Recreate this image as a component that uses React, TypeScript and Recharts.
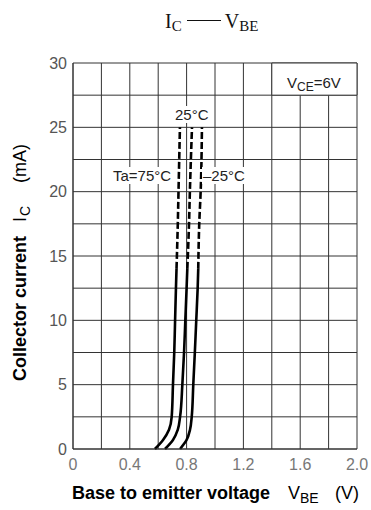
import React from "react";
import {
  LineChart,
  Line,
  XAxis,
  YAxis,
  CartesianGrid,
  ReferenceArea,
} from "recharts";

// Ic - Vbe curves (mA vs V)
const currentLow = [0, 0.7, 1.5, 2.5, 5, 7.5, 10, 12.5, 14];
const currentHigh = [14, 17.5, 20, 25];

const vbe75Low = [0.577, 0.634, 0.676, 0.695, 0.704, 0.713, 0.719, 0.725, 0.729];
const vbe75High = [0.729, 0.738, 0.743, 0.753];
const vbe25Low = [0.648, 0.704, 0.738, 0.754, 0.77, 0.782, 0.791, 0.8, 0.805];
const vbe25High = [0.805, 0.817, 0.823, 0.838];
const vbeM25Low = [0.754, 0.8, 0.824, 0.836, 0.847, 0.858, 0.868, 0.878, 0.882];
const vbeM25High = [0.882, 0.889, 0.899, 0.908];

const xTicks = [0, 0.2, 0.4, 0.6, 0.8, 1.0, 1.2, 1.4, 1.6, 1.8, 2.0];
const xTickText = ["0", "", "0.4", "", "0.8", "", "1.2", "", "1.6", "", "2.0"];
const yTicks = [0, 2.5, 5, 7.5, 10, 12.5, 15, 17.5, 20, 22.5, 25, 27.5, 30];
const yTickText = ["0", "", "5", "", "10", "", "15", "", "20", "", "25", "", "30"];

const zip = (v: number[], i: number[]) => v.map((x, k) => ({ v: x, i: i[k] }));

const curves = [
  { key: "t75", low: zip(vbe75Low, currentLow), high: zip(vbe75High, currentHigh) },
  { key: "t25", low: zip(vbe25Low, currentLow), high: zip(vbe25High, currentHigh) },
  { key: "tm25", low: zip(vbeM25Low, currentLow), high: zip(vbeM25High, currentHigh) },
];

const sans = "Arial, 'Liberation Sans', sans-serif";
const serif = "'Times New Roman', 'Liberation Serif', serif";

const note: React.CSSProperties = {
  position: "absolute",
  fontFamily: sans,
  fontSize: 15,
  lineHeight: "15px",
  color: "#222",
  background: "#fff",
  padding: "1px 1px",
  whiteSpace: "nowrap",
};

export default function App() {
  return (
    <div
      style={{
        position: "absolute",
        left: 0,
        top: 0,
        width: 371,
        height: 510,
        background: "#fff",
      }}
    >
      <LineChart
        width={371}
        height={510}
        margin={{ top: 63, right: 14, bottom: 31, left: 13 }}
      >
        <CartesianGrid stroke="#333" strokeWidth={1} ticks={undefined} />
        <XAxis
          dataKey="v"
          type="number"
          domain={[0, 2]}
          ticks={xTicks}
          tickFormatter={(v: number) => xTickText[Math.round(v / 0.2)]}
          tickLine={false}
          tickSize={0}
          tickMargin={10}
          axisLine={{ stroke: "#333" }}
          tick={{ fill: "#777", fontSize: 16, fontFamily: sans }}
          interval={0}
          allowDecimals
        />
        <YAxis
          dataKey="i"
          type="number"
          domain={[0, 30]}
          ticks={yTicks}
          tickFormatter={(v: number) => yTickText[Math.round(v / 2.5)]}
          tickLine={false}
          tickSize={0}
          tickMargin={6}
          axisLine={{ stroke: "#333" }}
          tick={{ fill: "#555", fontSize: 16, fontFamily: sans }}
          interval={0}
        />
        <ReferenceArea
          x1={1.4}
          x2={2.0}
          y1={27.5}
          y2={30}
          fill="#fff"
          fillOpacity={1}
          stroke="#333"
          strokeWidth={1}
        />
        {curves.map((c) => (
          <Line
            key={c.key + "low"}
            data={c.low}
            dataKey="i"
            type="monotoneY"
            stroke="#000"
            strokeWidth={2.6}
            dot={false}
            isAnimationActive={false}
          />
        ))}
        {curves.map((c) => (
          <Line
            key={c.key + "high"}
            data={c.high}
            dataKey="i"
            type="monotoneY"
            stroke="#000"
            strokeWidth={2.6}
            strokeDasharray="7 3"
            dot={false}
            isAnimationActive={false}
          />
        ))}
      </LineChart>

      {/* title */}
      <div
        style={{
          position: "absolute",
          left: 165,
          top: 11,
          fontFamily: serif,
          fontSize: 20,
          lineHeight: "20px",
          color: "#111",
          whiteSpace: "nowrap",
        }}
      >
        I<span style={{ fontSize: 15, position: "relative", top: 3 }}>C</span>
        <span
          style={{
            display: "inline-block",
            width: 34,
            height: 7,
            borderTop: "1px solid #111",
            margin: "0 4px 0 5px",
          }}
        />
        V<span style={{ fontSize: 15, position: "relative", top: 3 }}>BE</span>
      </div>

      {/* plot notes */}
      <div style={{ ...note, left: 286, top: 74, background: "transparent" }}>
        V<span style={{ fontSize: 12, position: "relative", top: 3 }}>CE</span>=6V
      </div>
      <div style={{ ...note, left: 174, top: 106 }}>25°C</div>
      <div style={{ ...note, left: 112, top: 167 }}>Ta=75°C</div>
      <div style={{ ...note, left: 202, top: 167 }}>–25°C</div>

      {/* x axis title */}
      <div
        style={{
          position: "absolute",
          left: 0,
          top: 484,
          width: 371,
          height: 24,
          fontFamily: sans,
          fontSize: 18,
          lineHeight: "18px",
          color: "#000",
        }}
      >
        <span style={{ position: "absolute", left: 72, fontWeight: 700 }}>
          Base to emitter voltage
        </span>
        <span style={{ position: "absolute", left: 288 }}>V</span>
        <span style={{ position: "absolute", left: 300, top: 5, fontSize: 14 }}>BE</span>
        <span style={{ position: "absolute", left: 335 }}>(V)</span>
      </div>

      {/* y axis title */}
      <div
        style={{
          position: "absolute",
          left: 11,
          top: 381,
          width: 250,
          height: 18,
          transform: "rotate(-90deg)",
          transformOrigin: "0 0",
          fontFamily: sans,
          fontSize: 18,
          lineHeight: "18px",
          color: "#000",
          whiteSpace: "nowrap",
        }}
      >
        <span style={{ position: "absolute", left: 0, fontWeight: 700 }}>
          Collector current
        </span>
        <span style={{ position: "absolute", left: 159 }}>I</span>
        <span style={{ position: "absolute", left: 165, top: 5, fontSize: 14 }}>C</span>
        <span style={{ position: "absolute", left: 198 }}>(mA)</span>
      </div>
    </div>
  );
}
